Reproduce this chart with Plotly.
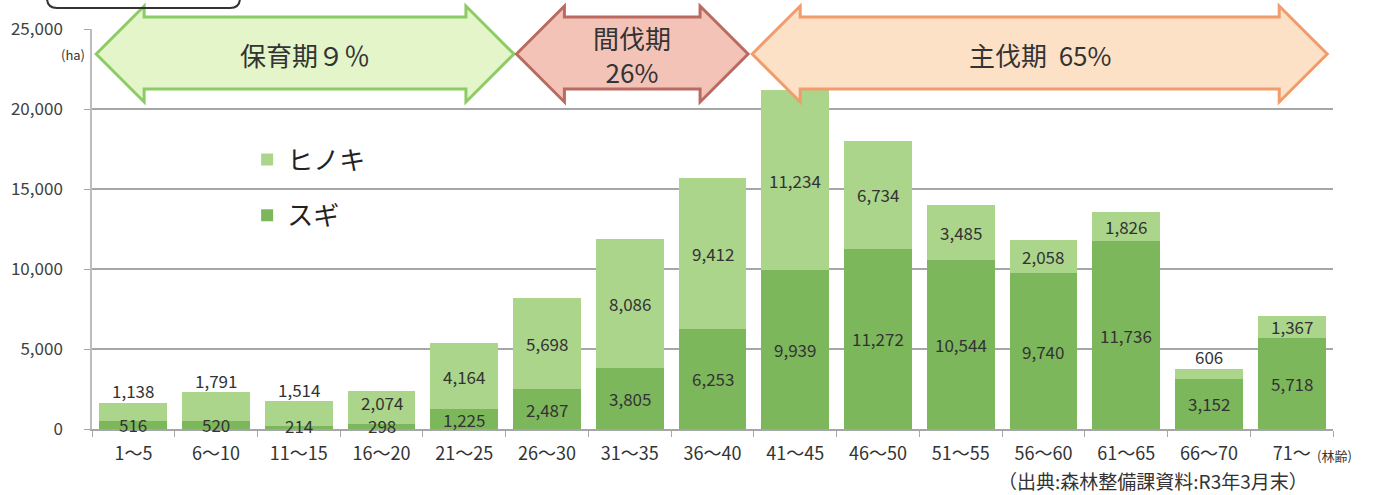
import plotly.graph_objects as go

# ---------------- data ----------------
categories = ["1～5", "6～10", "11～15", "16～20", "21～25", "26～30", "31～35",
              "36～40", "41～45", "46～50", "51～55", "56～60", "61～65", "66～70", "71～"]
sugi = [516, 520, 214, 298, 1225, 2487, 3805, 6253, 9939, 11272, 10544, 9740, 11736, 3152, 5718]
hinoki = [1138, 1791, 1514, 2074, 4164, 5698, 8086, 9412, 11234, 6734, 3485, 2058, 1826, 606, 1367]
y_ticks = [0, 5000, 10000, 15000, 20000, 25000]
periods = [  # (label, first category index, last category index)
    ("保育期９％", 0, 4),
    ("間伐期<br>26%", 5, 7),
    ("主伐期  65%", 8, 14),
]

# ---------------- style ----------------
DARK = "#7db75c"
LIGHT = "#abd58b"
TXT = "#333333"
GRID = "#a4a6a8"
FONT = "Noto Sans CJK JP"

fig = go.Figure()
fig.add_trace(go.Bar(x=categories, y=sugi, name="スギ", marker_color=DARK,
                     marker_line_width=0, legendgroup="s", legendrank=2,
                     hoverinfo="x+y+name"))
fig.add_trace(go.Bar(x=categories, y=hinoki, name="ヒノキ", marker_color=LIGHT,
                     marker_line_width=0, legendgroup="h", legendrank=1,
                     hoverinfo="x+y+name"))

# value labels
ann = []
for c, d, h in zip(categories, sugi, hinoki):
    tot = d + h
    dy = max(d / 2, 250)
    if h < 1000 or tot < 2350:
        hy = tot + 750
    else:
        hy = max(d + h / 2, dy + 1400)
    ann.append(dict(x=c, y=dy, xref="x", yref="y", text=f"{d:,}", showarrow=False,
                    xanchor="center", yanchor="middle",
                    font=dict(size=17, color=TXT, family=FONT)))
    ann.append(dict(x=c, y=hy, xref="x", yref="y", text=f"{h:,}", showarrow=False,
                    xanchor="center", yanchor="middle",
                    font=dict(size=17, color=TXT, family=FONT)))

# period arrows (paper coordinates, x derived from category boundaries)
n = len(categories)
def bnd(i):
    return i / n

arrow_styles = [
    dict(fill="#e3f5c9", line="#8ccb66", pad=(0.05, 0.10)),
    dict(fill="#f3c3b7", line="#bb6a62", pad=(0.13, -0.07)),
    dict(fill="#fde1c7", line="#f19c6c", pad=(-0.02, -0.07)),
]
TIP, HT, HB, ST, SB = 0.9375, 1.0575, 0.8175, 1.03, 0.85
HEAD = 48 / 1241
shapes = []
for (lab, i0, i1), st in zip(periods, arrow_styles):
    x0 = bnd(i0 + st["pad"][0])
    x1 = bnd(i1 + 1 + st["pad"][1])
    path = (f"M{x0},{TIP} L{x0+HEAD},{HT} L{x0+HEAD},{ST} L{x1-HEAD},{ST} L{x1-HEAD},{HT} "
            f"L{x1},{TIP} L{x1-HEAD},{HB} L{x1-HEAD},{SB} L{x0+HEAD},{SB} L{x0+HEAD},{HB} Z")
    shapes.append(dict(type="path", path=path, xref="paper", yref="paper",
                       fillcolor=st["fill"], line=dict(color=st["line"], width=3), layer="above"))
    ann.append(dict(x=(x0 + x1) / 2, y=TIP, xref="paper", yref="paper", text=lab,
                    showarrow=False, xanchor="center", yanchor="middle",
                    font=dict(size=26, color=TXT, family=FONT)))

# clipped rounded box at top-left
bx0, bx1 = -45 / 1241, 148 / 1241
by0, by1 = 1.0525, 1.12
r = 10 / 1241
ry = 10 / 400
shapes.append(dict(type="path", xref="paper", yref="paper", layer="above",
                   path=(f"M{bx0},{by1} L{bx0},{by0+ry} Q{bx0},{by0} {bx0+r},{by0} "
                         f"L{bx1-r},{by0} Q{bx1},{by0} {bx1},{by0+ry} L{bx1},{by1}"),
                   line=dict(color="#333333", width=2)))

ann += [
    dict(x=-0.004, y=0.935, xref="paper", yref="paper", text="(ha)", showarrow=False,
         xanchor="right", yanchor="middle", font=dict(size=13, color=TXT, family=FONT)),
    dict(x=0.9855, y=-0.065, xref="paper", yref="paper", text="(林齢)", showarrow=False,
         xanchor="left", yanchor="middle", font=dict(size=13, color=TXT, family=FONT)),
    dict(x=0.9815, y=-0.1275, xref="paper", yref="paper",
         text="（出典:森林整備課資料:R3年3月末）", showarrow=False,
         xanchor="right", yanchor="middle", font=dict(size=19, color=TXT, family=FONT)),
]

fig.update_layout(
    width=1374, height=495,
    margin=dict(l=92, r=41, t=29, b=66),
    barmode="stack", bargap=0.18,
    plot_bgcolor="white", paper_bgcolor="white",
    font=dict(family=FONT, color=TXT),
    shapes=shapes, annotations=ann,
    showlegend=True,
    legend=dict(x=0.125, y=0.7325, xanchor="left", yanchor="top",
                traceorder="grouped", tracegroupgap=19,
                font=dict(size=26, color="#222222", family=FONT),
                bgcolor="rgba(0,0,0,0)"),
)
fig.update_yaxes(range=[0, 25000], tickvals=y_ticks, tickformat=",",
                 showgrid=True, gridcolor=GRID, gridwidth=1.5,
                 ticks="outside", ticklen=6, tickcolor=GRID,
                 showline=True, linecolor="#bdbdbd", linewidth=1.5, zeroline=False,
                 tickfont=dict(size=17, color="#404040"), ticklabelstandoff=18)
fig.update_xaxes(type="category", tickson="boundaries", ticks="outside", ticklen=6,
                 tickcolor=GRID, showline=True, linecolor=GRID, linewidth=1.5,
                 showgrid=False, tickfont=dict(size=18, color=TXT), ticklabelstandoff=8)

fig.write_html("out.html")
